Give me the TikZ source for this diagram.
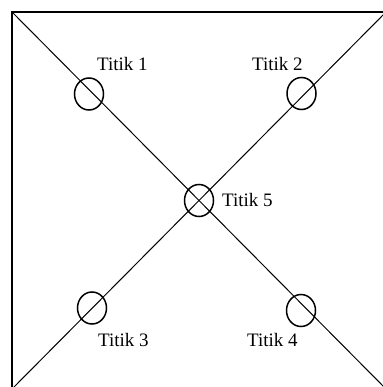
\documentclass[tikz,border=0pt]{standalone}
\usepackage{fontspec}
\setmainfont{Liberation Serif}
\usepackage{tikz}
\usetikzlibrary{shapes.geometric, positioning}

\begin{document}
\begin{tikzpicture}[x=1pt, y=-1pt,
  titik/.style={ellipse, draw, line width=1.5pt, inner sep=0pt,
                minimum width=29pt, minimum height=32pt},
  lbl/.style={anchor=base west, inner sep=0pt, font=\fontsize{19}{22}\selectfont},
  diag/.style={line width=1pt}
]
  \useasboundingbox (0,0) rectangle (382,387);

  % bingkai
  \coordinate (tl) at (12,12);
  \coordinate (br) at (386,389);
  \coordinate (tr) at (386,12);
  \coordinate (bl) at (12,389);
  \draw[line width=2pt] (bl) -- (tl) -- (tr) -- (br) -- cycle;

  % diagonal
  \draw[diag] (tl) -- (br);
  \draw[diag] (bl) -- (tr);

  % titik
  \node[titik] (t1) at (89,94) {};
  \node[lbl] (l1) at (97,70.5) {Titik 1};

  \node[titik] (t2) at (301.5,93.5) {};
  \node[lbl] (l2) at (252,70.5) {Titik 2};

  \node[titik] (t5) at (199,200.5) {};
  \node[lbl] (l5) at (222,206.5) {Titik 5};

  \node[titik] (t3) at (92,308) {};
  \node[lbl] (l3) at (98,346.5) {Titik 3};

  \node[titik] (t4) at (301,310.5) {};
  \node[lbl] (l4) at (247,346.5) {Titik 4};
\end{tikzpicture}
\end{document}
